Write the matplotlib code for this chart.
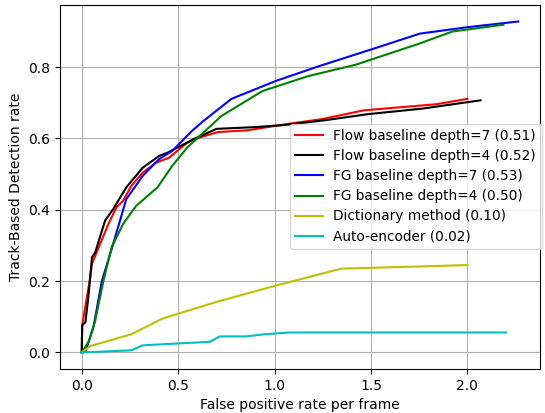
import numpy as np
import matplotlib
matplotlib.use('Agg')
import matplotlib.pyplot as plt

# ROC-like curves
flow7_x = [0.0, 0.002, 0.044, 0.053, 0.095, 0.138, 0.18, 0.214, 0.257, 0.316, 0.384, 0.453, 0.537,
           0.58, 0.707, 0.861, 1.056, 1.243, 1.464, 1.838, 2.0]
flow7_y = [0.0, 0.076, 0.211, 0.249, 0.304, 0.36, 0.407, 0.425, 0.467, 0.504, 0.532, 0.546, 0.584,
           0.598, 0.618, 0.623, 0.64, 0.654, 0.679, 0.696, 0.711]

flow4_x = [0.0, 0.002, 0.019, 0.036, 0.053, 0.07, 0.121, 0.163, 0.231, 0.316, 0.401, 0.444,
           0.58, 0.699, 0.903, 1.056, 1.26, 1.481, 1.77, 2.068]
flow4_y = [0.0, 0.076, 0.085, 0.165, 0.267, 0.281, 0.37, 0.402, 0.463, 0.518, 0.551, 0.56,
           0.598, 0.627, 0.632, 0.638, 0.651, 0.668, 0.684, 0.707]

fg7_x = [0.0, 0.019, 0.061, 0.104, 0.155, 0.231, 0.316, 0.401, 0.469, 0.571, 0.631, 0.776,
         1.005, 1.226, 1.515, 1.753, 2.0, 2.264]
fg7_y = [0.0, 0.002, 0.072, 0.2, 0.29, 0.43, 0.495, 0.542, 0.565, 0.621, 0.649, 0.711,
         0.761, 0.802, 0.852, 0.894, 0.912, 0.928]

fg4_x = [0.0, 0.036, 0.07, 0.112, 0.155, 0.214, 0.282, 0.393, 0.469, 0.546, 0.724, 0.937,
         1.175, 1.422, 1.745, 1.923, 2.187]
fg4_y = [0.0, 0.03, 0.09, 0.2, 0.295, 0.36, 0.411, 0.463, 0.523, 0.574, 0.663, 0.733,
         0.775, 0.807, 0.865, 0.9, 0.919]

dict_x = [0.0, 0.044, 0.257, 0.418, 0.707, 0.997, 1.345, 2.0]
dict_y = [0.0, 0.018, 0.051, 0.095, 0.143, 0.186, 0.235, 0.245]

ae_x = [0.0, 0.257, 0.316, 0.665, 0.716, 0.852, 0.946, 1.08, 2.2]
ae_y = [0.0, 0.006, 0.02, 0.03, 0.045, 0.045, 0.051, 0.056, 0.056]

labels = ['Flow baseline depth=7 (0.51)', 'Flow baseline depth=4 (0.52)',
          'FG baseline depth=7 (0.53)', 'FG baseline depth=4 (0.50)',
          'Dictionary method (0.10)', 'Auto-encoder (0.02)']
colors = ['r', 'k', 'b', 'g', 'y', 'c']

fig = plt.figure(figsize=(5.45, 4.13), dpi=100)
ax = fig.add_axes([0.110, 0.1065, 0.881, 0.8815])

series = [(flow7_x, flow7_y), (flow4_x, flow4_y), (fg7_x, fg7_y),
          (fg4_x, fg4_y), (dict_x, dict_y), (ae_x, ae_y)]
for (xs, ys), lab, col in zip(series, labels, colors):
    ax.plot(xs, ys, color=col, label=lab, linewidth=1.5)

ax.grid(True, color='#b0b0b0', linewidth=0.8)
ax.set_xticks([0.0, 0.5, 1.0, 1.5, 2.0])
ax.set_yticks([0.0, 0.2, 0.4, 0.6, 0.8])
ax.set_xlabel('False positive rate per frame')
ax.set_ylabel('Track-Based Detection rate')
ax.legend(loc='center right', bbox_to_anchor=(1.003, 0.502), borderaxespad=0.0,
          labelspacing=0.45, fontsize=9.8)

fig.savefig('out.png', dpi=100)
